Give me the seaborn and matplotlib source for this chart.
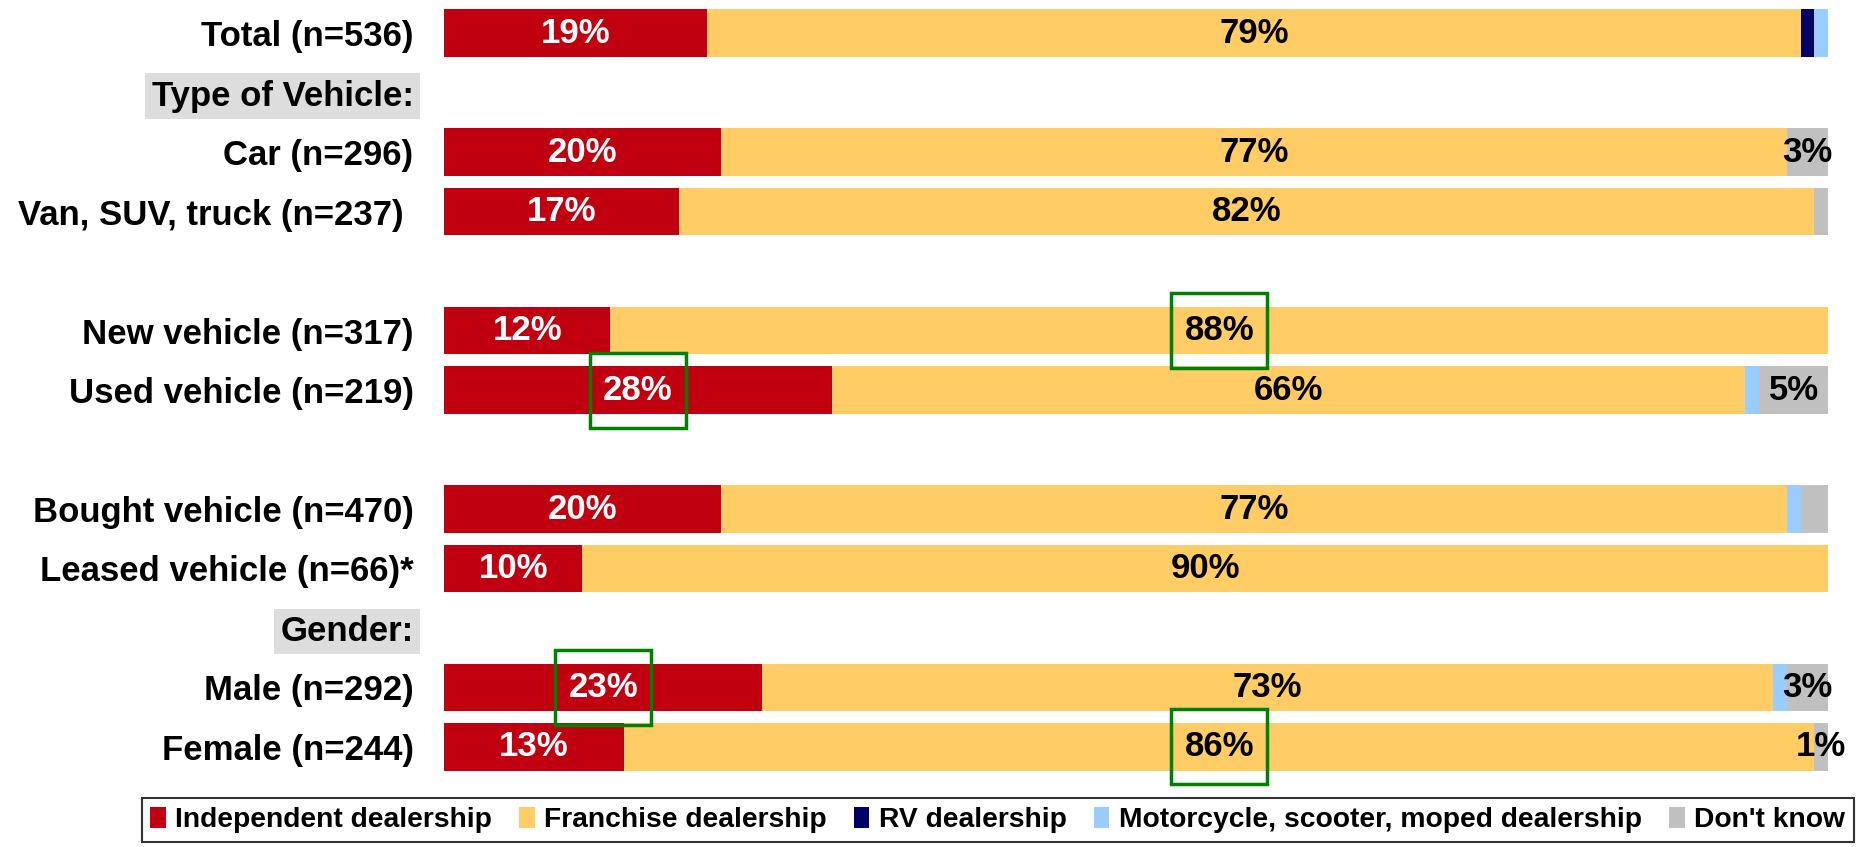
import matplotlib
matplotlib.use('Agg')
import matplotlib.pyplot as plt
import seaborn as sns
from matplotlib.patches import Patch, Rectangle

# Rows (headers and blanks included so spacing matches)
rows = ['Total (n=536)', 'Type of Vehicle:', 'Car (n=296)', 'Van, SUV, truck (n=237) ', ' ',
        'New vehicle (n=317)', 'Used vehicle (n=219)', '  ',
        'Bought vehicle (n=470)', 'Leased vehicle (n=66)*', 'Gender:',
        'Male (n=292)', 'Female (n=244)']
headers = ['Type of Vehicle:', 'Gender:']

# Percent values per series (0 for header / blank rows)
independent = [19, 0, 20, 17, 0, 12, 28, 0, 20, 10, 0, 23, 13]
franchise = [79, 0, 77, 82, 0, 88, 66, 0, 77, 90, 0, 73, 86]
rv = [1, 0, 0, 0, 0, 0, 0, 0, 0, 0, 0, 0, 0]
moto = [1, 0, 0, 0, 0, 0, 1, 0, 1, 0, 0, 1, 0]
dont_know = [0, 0, 3, 1, 0, 0, 5, 0, 2, 0, 0, 3, 1]

# which rows get a "Don't know" label, and which labels are boxed in green
dk_labelled = ['Car (n=296)', 'Used vehicle (n=219)', 'Male (n=292)', 'Female (n=244)']
highlight = [('New vehicle (n=317)', 'franchise'), ('Used vehicle (n=219)', 'independent'),
             ('Male (n=292)', 'independent'), ('Female (n=244)', 'franchise')]

series = ['Independent dealership', 'Franchise dealership', 'RV dealership',
          'Motorcycle, scooter, moped dealership', "Don't know"]
colors = ['#C00010', '#FFCC66', '#000066', '#99CCFF', '#C0C0C0']

plt.rcParams['font.family'] = ['Liberation Sans', 'DejaVu Sans']

fig = plt.figure(figsize=(18.58, 8.47), dpi=100)
ax = fig.add_axes([0.239, 0.083, 0.745, 0.913])

vals = [independent, franchise, rv, moto, dont_know]
cums = []
run = [0] * len(rows)
for v in vals:
    run = [a + b for a, b in zip(run, v)]
    cums.append(run)

# draw cumulative bars from the back so they stack
for cum, c in reversed(list(zip(cums, colors))):
    sns.barplot(x=cum, y=rows, order=rows, color=c, width=0.8, orient='h',
                linewidth=0, saturation=1, ax=ax)

fs = 25
for i, r in enumerate(rows):
    if independent[i] > 0:
        ax.text(independent[i] / 2, i, f'{independent[i]}%', ha='center', va='center',
                color='white', fontsize=fs, fontweight='bold')
    if franchise[i] > 0:
        ax.text(independent[i] + franchise[i] / 2, i, f'{franchise[i]}%', ha='center',
                va='center', color='black', fontsize=fs, fontweight='bold')
    if r in dk_labelled:
        ax.text(100 - dont_know[i] / 2, i, f'{dont_know[i]}%', ha='center', va='center',
                color='black', fontsize=fs, fontweight='bold')

for r, s in highlight:
    i = rows.index(r)
    cx = independent[i] / 2 if s == 'independent' else independent[i] + franchise[i] / 2
    ax.add_patch(Rectangle((cx - 3.45, i - 0.63), 6.9, 1.26, fill=False,
                           edgecolor='#008000', linewidth=2.5, zorder=5, clip_on=False))

ax.set_xlim(0, 100)
ax.set_ylim(len(rows) - 0.5, -0.5)
ax.set_xticks([])
ax.set_xlabel('')
ax.set_ylabel('')
ax.set_yticks(range(len(rows)))
ax.set_yticklabels(rows, fontsize=fs, fontweight='bold')
ax.tick_params(axis='y', length=0, pad=22)
for lab in ax.get_yticklabels():
    if lab.get_text() in headers:
        lab.set_bbox(dict(boxstyle='square,pad=0.18', facecolor='#DDDDDD', edgecolor='none'))
for sp in ax.spines.values():
    sp.set_visible(False)

handles = [Patch(facecolor=c, edgecolor='none') for c in colors]
leg = fig.legend(handles, series, loc='center', bbox_to_anchor=(0.537, 0.032), ncol=5,
                 frameon=True, fancybox=False, edgecolor='black',
                 prop={'weight': 'bold', 'size': 20.3}, handlelength=0.55, handleheight=0.8,
                 handletextpad=0.35, columnspacing=0.95, borderpad=0.3)
leg.get_frame().set_linewidth(1.5)

fig.savefig('out.png', dpi=100)
